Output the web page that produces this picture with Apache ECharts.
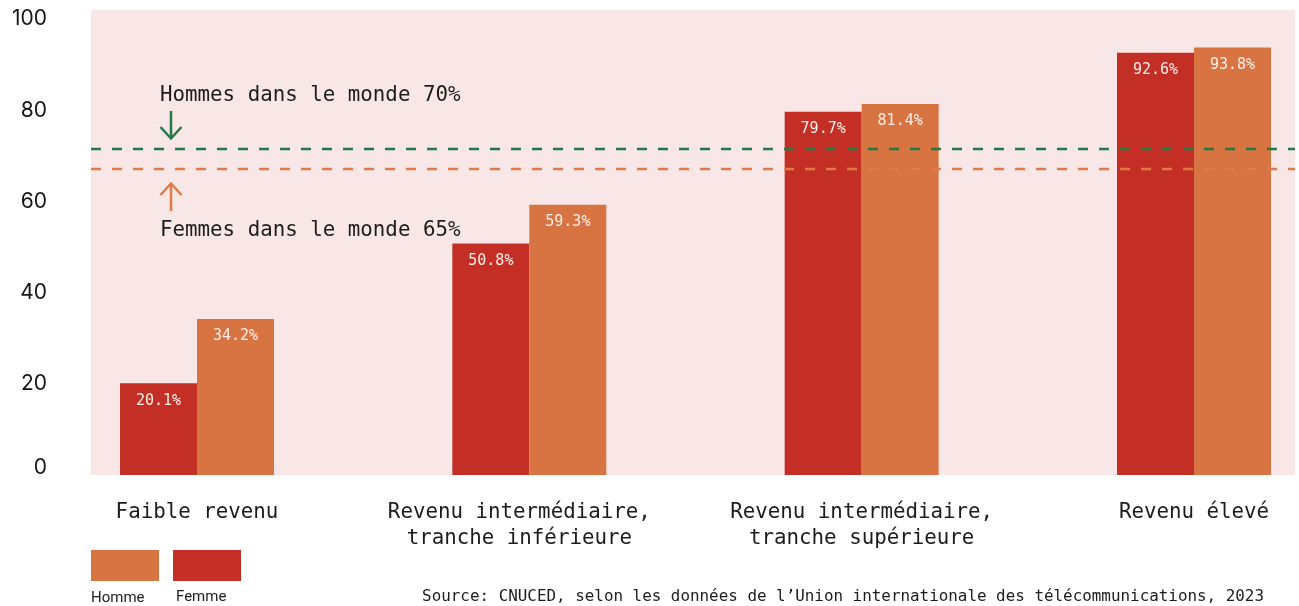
<!DOCTYPE html>
<html lang="fr">
<head>
<meta charset="utf-8">
<title>Accès à Internet selon le revenu</title>
<script src="https://cdn.jsdelivr.net/npm/echarts@6/dist/echarts.min.js"></script>
<style>
  html, body { margin: 0; padding: 0; background: #ffffff; }
  #chart { width: 1299px; height: 606px; }
</style>
</head>
<body>
<div id="chart"></div>
<script>
// données du graphique
const categories = [
  'Faible revenu',
  'Revenu intermédiaire,\ntranche inférieure',
  'Revenu intermédiaire,\ntranche supérieure',
  'Revenu élevé'
];
const femmeValues = [20.1, 50.8, 79.7, 92.6];
const hommeValues = [34.2, 59.3, 81.4, 93.8];
const yTicks = [0, 20, 40, 60, 80, 100];
// moyennes mondiales (position des lignes pointillées)
const hommesMonde = [71.5];
const femmesMonde = [67.1];

const RED = '#c42f25';
const ORANGE = '#d87342';
const GREEN = '#217a45';
const LINE_ORANGE = '#e07b48';
const MONO = '"DejaVu Sans Mono", "Liberation Mono", monospace';
const CAT_FONT = 20.8;

const chart = echarts.init(document.getElementById('chart'));

// étiquettes de catégories (la 2e est un peu décalée à gauche sur l'original)
const catLabel = (value, index) => {
  if (index !== 1) return value;
  return value.split('\n').map(l => '{s|' + l + '}').join('\n');
};

const option = {
  animation: false,
  backgroundColor: '#ffffff',
  grid: [
    // fond rose + axe vertical
    {
      left: 91, right: 4, top: 10, bottom: 131,
      show: true, backgroundColor: '#f9e7e7', borderWidth: 0
    },
    // barres (centres des groupes sur les graduations)
    { left: 197, right: 105, top: 10, bottom: 131 }
  ],
  xAxis: [
    { gridIndex: 0, type: 'value', min: 0, max: 1, show: false },
    {
      gridIndex: 1,
      type: 'category',
      data: categories,
      boundaryGap: false,
      axisLine: { show: false },
      axisTick: { show: false },
      splitLine: { show: false },
      axisLabel: {
        interval: 0,
        margin: 25,
        verticalAlign: 'top',
        align: 'center',
        lineHeight: 26,
        fontFamily: MONO,
        fontSize: CAT_FONT,
        color: '#1c1c1c',
        formatter: catLabel,
        rich: {
          s: {
            fontFamily: MONO,
            fontSize: CAT_FONT,
            lineHeight: 26,
            color: '#1c1c1c',
            padding: [0, 20, 0, 0]
          }
        }
      }
    }
  ],
  yAxis: [
    {
      gridIndex: 0,
      type: 'value',
      min: yTicks[0],
      max: 102,
      interval: 20,
      axisLine: { show: false },
      axisTick: { show: false },
      splitLine: { show: false },
      axisLabel: {
        showMaxLabel: false,
        margin: 44,
        fontFamily: 'Inter, "Noto Sans", sans-serif',
        fontSize: 21,
        color: '#151515',
        formatter: v => {
          if (!yTicks.includes(v)) return '';
          return v === 0 ? '{z|0}' : String(v);
        },
        rich: {
          z: {
            fontFamily: 'Inter, "Noto Sans", sans-serif',
            fontSize: 21,
            color: '#151515',
            padding: [0, 0, 14, 0]
          }
        }
      }
    },
    { gridIndex: 1, type: 'value', min: 0, max: 102, show: false }
  ],
  series: [
    {
      name: 'Femme',
      type: 'bar',
      xAxisIndex: 1,
      yAxisIndex: 1,
      data: femmeValues,
      barWidth: 77,
      barGap: '0%',
      clip: false,
      itemStyle: { color: RED },
      label: {
        show: true,
        position: 'insideTop',
        distance: 10,
        fontFamily: MONO,
        fontSize: 15,
        color: '#fdeeea',
        formatter: p => p.value.toFixed(1) + '%'
      }
    },
    {
      name: 'Homme',
      type: 'bar',
      xAxisIndex: 1,
      yAxisIndex: 1,
      data: hommeValues,
      barWidth: 77,
      barGap: '0%',
      clip: false,
      itemStyle: { color: ORANGE },
      label: {
        show: true,
        position: 'insideTop',
        distance: 10,
        fontFamily: MONO,
        fontSize: 15,
        color: '#fdeeea',
        formatter: p => p.value.toFixed(1) + '%'
      }
    },
    // série vide pour porter les lignes des moyennes mondiales
    {
      type: 'line',
      xAxisIndex: 0,
      yAxisIndex: 0,
      data: [],
      z: 5,
      markLine: {
        silent: true,
        symbol: 'none',
        label: { show: false },
        data: [
          { yAxis: hommesMonde[0], lineStyle: { color: GREEN, width: 2.3, type: [10, 11] } },
          { yAxis: femmesMonde[0], lineStyle: { color: LINE_ORANGE, width: 2.3, type: [10, 11] } }
        ]
      }
    }
  ],
  graphic: [
    // annotations
    {
      type: 'text', z: 10,
      style: { text: 'Hommes dans le monde 70%', x: 160, y: 96, verticalAlign: 'middle',
        font: CAT_FONT + 'px ' + MONO, fill: '#1c1c1c' }
    },
    {
      type: 'polyline', z: 10,
      shape: { points: [[171, 111], [171, 138]] },
      style: { stroke: GREEN, lineWidth: 2.5 }
    },
    {
      type: 'polyline', z: 10,
      shape: { points: [[160.5, 127], [171, 138.5], [181.5, 127]] },
      style: { stroke: GREEN, lineWidth: 2.5, fill: null }
    },
    {
      type: 'polyline', z: 10,
      shape: { points: [[171, 184], [171, 211]] },
      style: { stroke: LINE_ORANGE, lineWidth: 2.5 }
    },
    {
      type: 'polyline', z: 10,
      shape: { points: [[160.5, 195], [171, 183.5], [181.5, 195]] },
      style: { stroke: LINE_ORANGE, lineWidth: 2.5, fill: null }
    },
    {
      type: 'text', z: 10,
      style: { text: 'Femmes dans le monde 65%', x: 160, y: 231, verticalAlign: 'middle',
        font: CAT_FONT + 'px ' + MONO, fill: '#1c1c1c' }
    },
    // légende
    { type: 'rect', shape: { x: 91, y: 550, width: 68, height: 31 }, style: { fill: ORANGE } },
    { type: 'rect', shape: { x: 173, y: 550, width: 68, height: 31 }, style: { fill: RED } },
    {
      type: 'text',
      style: { text: 'Homme', x: 91, y: 598, verticalAlign: 'middle',
        font: '15px Roboto, "Liberation Sans", sans-serif', fill: '#1c1c1c' }
    },
    {
      type: 'text',
      style: { text: 'Femme', x: 176, y: 597, verticalAlign: 'middle',
        font: '15px Roboto, "Liberation Sans", sans-serif', fill: '#1c1c1c' }
    },
    // source
    {
      type: 'text',
      style: { text: 'Source: CNUCED, selon les données de l’Union internationale des télécommunications, 2023',
        x: 1264, y: 597, align: 'right', verticalAlign: 'middle',
        font: '15.9px ' + MONO, fill: '#1c1c1c' }
    }
  ]
};

chart.setOption(option);
window.addEventListener('resize', () => chart.resize());
</script>
</body>
</html>
